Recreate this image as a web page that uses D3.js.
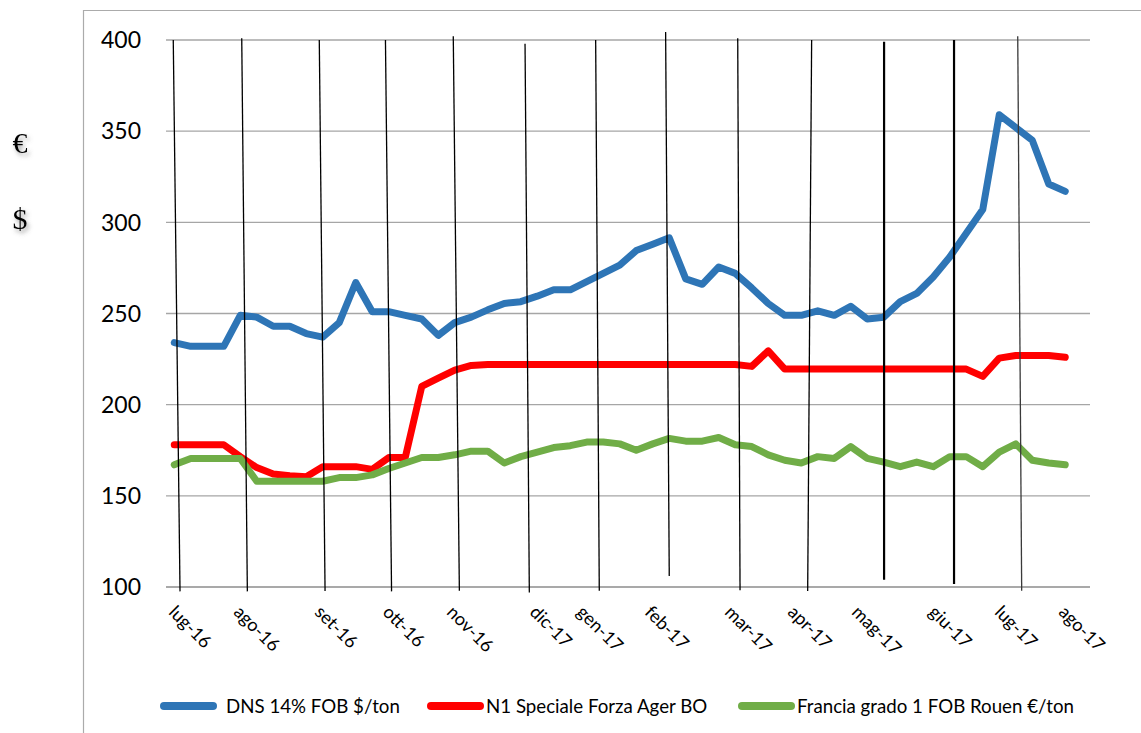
<!DOCTYPE html>
<html>
<head>
<meta charset="utf-8">
<script src="https://cdn.jsdelivr.net/npm/d3@7"></script>
<style>
  html, body { margin: 0; padding: 0; background: #fff; }
  svg { display: block; }
</style>
</head>
<body>
<svg id="chart" width="1141" height="733"></svg>
<script>
// ---------- DATA ----------
const seriesNames = ["DNS 14% FOB $/ton", "N1 Speciale Forza Ager BO", "Francia grado 1 FOB Rouen €/ton"];

const dns = [234, 232, 232, 232, 249, 248, 243, 243, 239, 237, 245, 267, 251, 251, 249, 247, 238, 245, 248, 252,
  255.5, 256.5, 259.5, 263, 263, 267.5, 272, 276.5, 284.5, 288, 291.5, 269, 266, 275.5, 272, 264, 255.5, 249, 249, 251.5,
  249, 254, 247, 248, 256.5, 261, 270, 281, 294, 307, 359, 352, 345, 321, 317];

const n1 = [178, 178, 178, 178, 171.5, 165.5, 162, 161, 160.5, 166, 166, 166, 164.5, 171, 171, 210, 214.5, 219, 221.5, 222,
  222, 222, 222, 222, 222, 222, 222, 222, 222, 222, 222, 222, 222, 222, 222, 221, 229.5, 219.5, 219.5, 219.5,
  219.5, 219.5, 219.5, 219.5, 219.5, 219.5, 219.5, 219.5, 219.5, 215.5, 225.5, 227, 227, 227, 226];

const francia = [167, 170.5, 170.5, 170.5, 170.5, 158, 158, 158, 158, 158, 160, 160, 161.5, 165, 168, 171, 171, 172.5, 174.5, 174.5,
  168, 171.5, 174, 176.5, 177.5, 179.5, 179.5, 178.5, 175, 178.5, 181.5, 180, 180, 182, 178, 177, 172.5, 169.5, 168, 171.5,
  170.5, 177, 170.5, 168.5, 166, 168.5, 166, 171.5, 171.5, 166, 174, 178.5, 169.5, 168, 167];

const yTicks = [100, 150, 200, 250, 300, 350, 400];

const monthLabels = ["lug-16", "ago-16", "set-16", "ott-16", "nov-16", "dic-17", "gen-17", "feb-17",
  "mar-17", "apr-17", "mag-17", "giu-17", "lug-17", "ago-17"];
// label positions on the week axis (week index)
const monthLabelPos = [-0.14, 3.8, 8.71, 12.83, 16.71, 21.74, 24.59, 28.71, 33.56, 37.38, 41.26, 45.92, 49.92, 53.8];

// hand-drawn month separators: [week index, value] at top and bottom
const sepTop = [[-0.06, 400], [4.09, 401], [8.79, 400], [12.8, 400], [16.91, 402], [21.26, 398], [25.54, 400],
  [29.78, 404.4], [34.15, 401], [38.63, 400], [43.02, 399], [47.26, 400], [51.12, 402]];
const sepBottom = [[0.35, 97.6], [4.43, 97.6], [9.14, 97.8], [13.17, 97.6], [17.28, 98], [21.52, 97], [25.76, 98],
  [30.0, 106], [34.29, 98.2], [38.39, 97.8], [43.02, 104], [47.26, 101.6], [51.36, 98]];
const sepHeavy = [false, false, false, false, false, false, false, false, false, false, true, true, false];

const currencySymbols = ["€", "$"];
const currencyValues = [344, 302];

// ---------- LAYOUT ----------
const svg = d3.select("#chart");
const W = 1141, H = 733;
const colors = ["#2E75B6", "#FF0000", "#70AD47"];
const font = "Lato, 'Open Sans', sans-serif";

const x = d3.scaleLinear().domain([-0.5, 55.5]).range([166, 1090]);
const y = d3.scaleLinear().domain([100, 400]).range([587, 40]);

// defs: shadow
const defs = svg.append("defs");
const f = defs.append("filter").attr("id", "shadow").attr("x", "-50%").attr("y", "-50%").attr("width", "200%").attr("height", "200%");
f.append("feDropShadow").attr("dx", 2).attr("dy", 3).attr("stdDeviation", 2)
  .attr("flood-color", "#666").attr("flood-opacity", 0.6);

// outer frame
svg.append("line").attr("x1", 83).attr("x2", W).attr("y1", 10.5).attr("y2", 10.5)
  .attr("stroke", "#ababab").attr("stroke-width", 1.2);
svg.append("line").attr("x1", 83.5).attr("x2", 83.5).attr("y1", 10).attr("y2", H)
  .attr("stroke", "#ababab").attr("stroke-width", 1.2);

// gridlines
svg.append("g").selectAll("line").data(yTicks).join("line")
  .attr("x1", x.range()[0]).attr("x2", x.range()[1])
  .attr("y1", d => y(d)).attr("y2", d => y(d))
  .attr("stroke", d => d === 100 ? "#8c8c8c" : "#a6a6a6")
  .attr("stroke-width", d => d === 100 ? 1.6 : 1.3);

// y labels
svg.append("g").selectAll("text").data(yTicks).join("text")
  .attr("x", 141).attr("y", d => y(d)).attr("dy", "0.36em")
  .attr("text-anchor", "end")
  .attr("font-family", font).attr("font-size", 23).attr("fill", "#000")
  .text(d => d);

// currency symbols
svg.append("g").selectAll("text").data(currencySymbols).join("text")
  .attr("x", 20).attr("y", (d, i) => y(currencyValues[i])).attr("dy", "0.35em")
  .attr("text-anchor", "middle")
  .attr("font-family", "'Liberation Serif', 'DejaVu Serif', serif").attr("font-size", 30)
  .attr("fill", "#000").attr("filter", "url(#shadow)")
  .text(d => d);

// series lines
const line = d3.line().x((d, i) => x(i)).y(d => y(d));
const allSeries = [dns, n1, francia];
svg.append("g").selectAll("path").data(allSeries).join("path")
  .attr("d", d => line(d))
  .attr("fill", "none")
  .attr("stroke", (d, i) => colors[i])
  .attr("stroke-width", 7)
  .attr("stroke-linejoin", "round")
  .attr("stroke-linecap", "round");

// hand-drawn separators
svg.append("g").selectAll("line").data(sepTop).join("line")
  .attr("x1", d => x(d[0])).attr("y1", d => y(d[1]))
  .attr("x2", (d, i) => x(sepBottom[i][0])).attr("y2", (d, i) => y(sepBottom[i][1]))
  .attr("stroke", (d, i) => i === 12 ? "#3a3a3a" : "#000")
  .attr("stroke-width", (d, i) => sepHeavy[i] ? 2.2 : 1.3);

// month labels
svg.append("g").selectAll("text").data(monthLabels).join("text")
  .attr("transform", (d, i) => `translate(${x(monthLabelPos[i]) + 5},604) rotate(45)`)
  .attr("dy", "0.72em")
  .attr("text-anchor", "start")
  .attr("font-family", font).attr("font-size", 18).attr("fill", "#000")
  .text(d => d);

// legend
const legendX = [160, 427, 738];
const lg = svg.append("g").selectAll("g").data(seriesNames).join("g")
  .attr("transform", (d, i) => `translate(${legendX[i]},706)`);
lg.append("line").attr("x1", 4).attr("x2", 53).attr("y1", 0).attr("y2", 0)
  .attr("stroke", (d, i) => colors[i]).attr("stroke-width", 8).attr("stroke-linecap", "round");
lg.append("text").attr("x", (d, i) => i === 0 ? 66 : 59).attr("y", 0).attr("dy", "0.36em")
  .attr("font-family", font).attr("font-size", 18.7).attr("fill", "#000")
  .text(d => d);
</script>
</body>
</html>
